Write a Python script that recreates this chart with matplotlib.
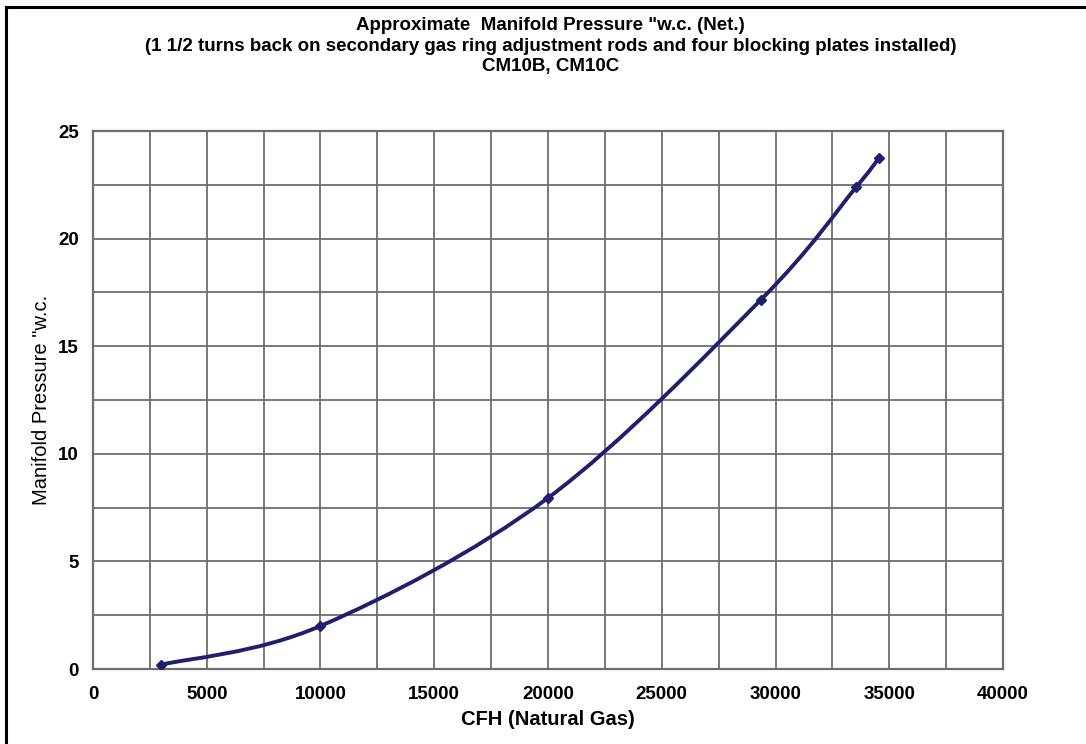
import numpy as np
import matplotlib
matplotlib.use('Agg')
import matplotlib.pyplot as plt
from matplotlib.path import Path
from matplotlib.patches import PathPatch
from matplotlib.lines import Line2D
from matplotlib.ticker import MultipleLocator

plt.rcParams['font.family'] = ['Liberation Sans', 'DejaVu Sans']

# readings
cfh = [3000, 10000, 20000, 29350, 33550, 34550]
pressure = [0.2, 2.0, 7.95, 17.15, 22.4, 23.75]

TITLE = ('Approximate  Manifold Pressure "w.c. (Net.)\n'
         '(1 1/2 turns back on secondary gas ring adjustment rods and four blocking plates installed)\n'
         'CM10B, CM10C')

LINE_COLOR = '#1f1f6e'
GRID_COLOR = '#6e6e6e'


def smooth_path(xs, ys):
  # Excel-style smoothed line: cubic bezier segments through every point
  pts = np.column_stack([xs, ys]).astype(float)
  n = len(pts)
  verts = [pts[0]]
  codes = [Path.MOVETO]
  for i in range(n - 1):
    p0 = pts[i - 1] if i > 0 else pts[i]
    p1 = pts[i]
    p2 = pts[i + 1]
    p3 = pts[i + 2] if i + 2 < n else pts[i + 1]
    c1 = p1 + (p2 - p0) / 6.0
    c2 = p2 - (p3 - p1) / 6.0
    verts += [c1, c2, p2]
    codes += [Path.CURVE4] * 3
  return Path(verts, codes)


fig = plt.figure(figsize=(10.86, 7.44), dpi=100)
ax = fig.add_axes([0.0856, 0.1008, 0.8380, 0.7231])

ax.set_xlim(0, 40000)
ax.set_ylim(0, 25)
ax.xaxis.set_major_locator(MultipleLocator(5000))
ax.xaxis.set_minor_locator(MultipleLocator(2500))
ax.yaxis.set_major_locator(MultipleLocator(5))
ax.yaxis.set_minor_locator(MultipleLocator(2.5))
ax.grid(which='both', color=GRID_COLOR, linewidth=1.3)
ax.set_axisbelow(True)
ax.tick_params(which='both', length=0, labelsize=13.5)
ax.tick_params(axis='x', pad=12)
ax.tick_params(axis='y', pad=10)
for lab in ax.get_xticklabels() + ax.get_yticklabels():
  lab.set_fontweight('bold')
for sp in ax.spines.values():
  sp.set_color(GRID_COLOR)
  sp.set_linewidth(1.6)

ax.add_patch(PathPatch(smooth_path(cfh, pressure), fill=False,
                       edgecolor=LINE_COLOR, linewidth=2.8, zorder=3))
ax.plot(cfh, pressure, linestyle='none', marker='D', markersize=5,
        color=LINE_COLOR, zorder=4)

ax.set_xlabel('CFH (Natural Gas)', fontsize=14.5, fontweight='bold', labelpad=5)
ax.set_ylabel('Manifold Pressure "w.c.', fontsize=14.5, labelpad=5)

fig.text(0.507, 0.977, TITLE, ha='center', va='top', fontsize=13.5,
         fontweight='bold', linespacing=1.28)

# frame lines along the top and left of the picture
fig.add_artist(Line2D([0.0055, 0.0055], [0, 0.9906], color='black', linewidth=2.2,
                      transform=fig.transFigure))
fig.add_artist(Line2D([0.0055, 1.0], [0.9906, 0.9906], color='black', linewidth=2.2,
                      transform=fig.transFigure))

fig.savefig('out.png', dpi=100)
